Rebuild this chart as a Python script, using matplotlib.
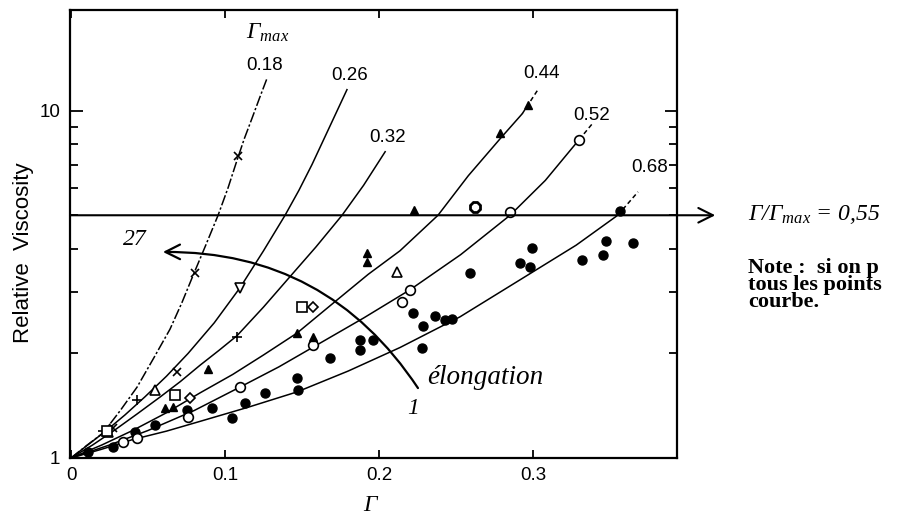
import matplotlib
matplotlib.use("Agg")
import matplotlib.pyplot as plt
from matplotlib.ticker import FixedLocator, NullFormatter, NullLocator

plt.rcParams["font.family"] = ["Liberation Sans", "DejaVu Sans"]
plt.rcParams["mathtext.fontset"] = "custom"
plt.rcParams["mathtext.rm"] = "Liberation Serif:italic"
plt.rcParams["mathtext.it"] = "Liberation Serif:italic"

# fitted curves, one per Gamma_max
c018_g = [0, 0.01, 0.0208, 0.032, 0.0429, 0.054, 0.0643, 0.072, 0.0792, 0.0875,
          0.0955, 0.102, 0.1078, 0.1125, 0.1175, 0.1225, 0.1273]
c018_v = [1, 1.085, 1.18, 1.37, 1.60, 1.95, 2.35, 2.8, 3.35, 4.1,
          5.0, 6.0, 7.2, 8.3, 9.5, 10.9, 12.4]
c026_g = [0, 0.012, 0.023, 0.035, 0.048, 0.062, 0.076, 0.093, 0.1097, 0.125,
          0.139, 0.148, 0.1565, 0.168, 0.1792]
c026_v = [1, 1.1, 1.2, 1.33, 1.5, 1.72, 2.0, 2.45, 3.09, 3.95,
          5.0, 5.9, 7.0, 9.0, 11.5]
c032_g = [0, 0.014, 0.028, 0.043, 0.058, 0.071, 0.0838, 0.096, 0.1078, 0.125,
          0.142, 0.159, 0.176, 0.19, 0.204]
c032_v = [1, 1.09, 1.2, 1.34, 1.5, 1.66, 1.85, 2.04, 2.25, 2.72,
          3.32, 4.05, 5.0, 6.1, 7.62]
c044_g = [0, 0.02, 0.04, 0.062, 0.0838, 0.105, 0.125, 0.1468, 0.1727, 0.193,
          0.2136, 0.2383, 0.258, 0.2786, 0.293]
c044_v = [1, 1.09, 1.2, 1.35, 1.54, 1.74, 1.98, 2.29, 2.85, 3.38,
          3.95, 5.0, 6.5, 8.3, 9.8]
c044_tail_g = [0.293, 0.3032]
c044_tail_v = [9.8, 11.5]
c052_g = [0, 0.025, 0.05, 0.08, 0.1097, 0.135, 0.16, 0.19, 0.2201, 0.253,
          0.2851, 0.308, 0.3299]
c052_v = [1, 1.09, 1.2, 1.37, 1.6, 1.83, 2.12, 2.53, 3.05, 3.85,
          5.0, 6.3, 8.25]
c052_tail_g = [0.3299, 0.339]
c052_tail_v = [8.25, 9.23]
c068_g = [0, 0.02, 0.04, 0.062, 0.0838, 0.115, 0.1468, 0.18, 0.2136, 0.2526,
          0.2983, 0.328, 0.355]
c068_v = [1, 1.06, 1.13, 1.195, 1.275, 1.4, 1.55, 1.78, 2.08, 2.55,
          3.4, 4.1, 5.0]
c068_tail_g = [0.355, 0.3682]
c068_tail_v = [5.0, 5.84]
curve_labels = ["0.18", "0.26", "0.32", "0.44", "0.52", "0.68"]

# measured points
fcirc_g = [0.011, 0.0273, 0.0416, 0.0545, 0.0753, 0.0916, 0.1045, 0.113, 0.126,
           0.1468, 0.1474, 0.168, 0.1877, 0.196, 0.1877, 0.222, 0.2286, 0.228,
           0.2364, 0.2429, 0.2474, 0.259, 0.2916, 0.298, 0.2994, 0.3318, 0.3455,
           0.3474, 0.365, 0.3565]
fcirc_v = [1.04, 1.076, 1.188, 1.245, 1.375, 1.39, 1.30, 1.44, 1.54,
           1.70, 1.57, 1.94, 2.19, 2.19, 2.05, 2.62, 2.40, 2.07,
           2.57, 2.50, 2.52, 3.41, 3.65, 3.55, 4.03, 3.72, 3.85,
           4.22, 4.16, 5.15]
ocirc_g = [0.0338, 0.0429, 0.076, 0.1097, 0.1571, 0.2149, 0.2201, 0.2851, 0.3299]
ocirc_v = [1.11, 1.14, 1.31, 1.60, 2.12, 2.82, 3.05, 5.12, 8.25]
ftri_g = [0.061, 0.0662, 0.089, 0.1468, 0.1571, 0.1922, 0.1922, 0.2227, 0.2786, 0.2968]
ftri_v = [1.39, 1.40, 1.81, 2.29, 2.23, 3.90, 3.67, 5.18, 8.64, 10.4]
otri_g = [0.024, 0.0545, 0.2117]
otri_v = [1.19, 1.57, 3.44]
dtri_g = [0.1097]
dtri_v = [3.09]
cross_g = [0.0273, 0.0688, 0.0805, 0.1084]
cross_v = [1.22, 1.77, 3.41, 7.42]
plus_g = [0.0208, 0.0429, 0.1078]
plus_v = [1.20, 1.47, 2.23]
square_g = [0.0234, 0.0675, 0.15]
square_v = [1.20, 1.52, 2.72]
diam_g = [0.0773, 0.1571]
diam_v = [1.49, 2.72]
octo_g = [0.2623]
octo_v = [5.29]

W, H = 898, 517


def fxy(px, py):
    """pixel position (from top-left) -> figure fraction"""
    return px / W, 1 - py / H


fig = plt.figure(figsize=(W / 100, H / 100), dpi=100)
ax = fig.add_axes([70 / W, (H - 458) / H, 607 / W, 448 / H])
ax.set_yscale("log")
ax.set_xlim(-0.00065, 0.3935)
ax.set_ylim(1, 19.5)

k = "black"
ax.plot(c018_g, c018_v, color=k, lw=1.1, dashes=(7, 1.5, 1.5, 1.5))
ax.plot(c026_g, c026_v, color=k, lw=1.1)
ax.plot(c032_g, c032_v, color=k, lw=1.1)
ax.plot(c044_g, c044_v, color=k, lw=1.1)
ax.plot(c044_tail_g, c044_tail_v, color=k, lw=1.1, dashes=(3, 2))
ax.plot(c052_g, c052_v, color=k, lw=1.1)
ax.plot(c052_tail_g, c052_tail_v, color=k, lw=1.1, dashes=(3, 2))
ax.plot(c068_g, c068_v, color=k, lw=1.1)
ax.plot(c068_tail_g, c068_tail_v, color=k, lw=1.1, dashes=(3, 2))

ax.plot(fcirc_g, fcirc_v, "o", color=k, ms=6.5, ls="none")
ax.plot(ocirc_g, ocirc_v, "o", mfc="white", mec=k, mew=1.2, ms=7, ls="none")
ax.plot(ftri_g, ftri_v, "^", color=k, ms=6, ls="none")
ax.plot(otri_g, otri_v, "^", mfc="white", mec=k, mew=1.2, ms=6.5, ls="none")
ax.plot(dtri_g, dtri_v, "v", mfc="white", mec=k, mew=1.2, ms=6.5, ls="none")
ax.plot(cross_g, cross_v, "x", color=k, mew=1.2, ms=6, ls="none")
ax.plot(plus_g, plus_v, "+", color=k, mew=1.2, ms=7, ls="none")
ax.plot(square_g, square_v, "s", mfc="white", mec=k, mew=1.2, ms=6.5, ls="none")
ax.plot(diam_g, diam_v, "D", mfc="white", mec=k, mew=1.2, ms=5.5, ls="none")
ax.plot(octo_g, octo_v, "8", mfc="white", mec=k, mew=2, ms=7.5, ls="none")

# Gamma/Gamma_max = 0.55 line with arrow past the frame
ax.annotate("", xy=(1.063, 5.0), xycoords=("axes fraction", "data"),
            xytext=(0.0, 5.0), textcoords=("axes fraction", "data"),
            arrowprops=dict(arrowstyle="->,head_length=0.7,head_width=0.35",
                            lw=1.5, color=k, shrinkA=0, shrinkB=0,
                            mutation_scale=15),
            annotation_clip=False)

# elongation arrow
ax.annotate("", xy=(0.0597, 3.92), xytext=(0.2253, 1.59),
            arrowprops=dict(arrowstyle="->,head_length=0.7,head_width=0.35",
                            connectionstyle="arc3,rad=0.27", lw=1.6, color=k,
                            shrinkA=0, shrinkB=0, mutation_scale=15))

ax.set_xticks([0, 0.1, 0.2, 0.3])
ax.set_xticklabels(["0", "0.1", "0.2", "0.3"])
ax.xaxis.set_minor_locator(NullLocator())
ax.yaxis.set_major_locator(FixedLocator([1, 10]))
ax.set_yticklabels(["1", "10"])
ax.yaxis.set_minor_locator(FixedLocator([2, 3, 4, 5, 6, 7, 8, 9]))
ax.yaxis.set_minor_formatter(NullFormatter())
ax.tick_params(which="both", direction="in", top=True, right=True, width=1.3,
               labelsize=13.5)
ax.tick_params(axis="x", which="major", length=6, pad=6.5)
ax.tick_params(axis="y", which="major", length=9, pad=7)
ax.tick_params(axis="y", which="minor", length=5.5)
for s in ax.spines.values():
    s.set_linewidth(1.6)

serif = ["Liberation Serif", "DejaVu Serif"]

fig.text(*fxy(24, 253), "Relative  Viscosity", rotation=90, fontsize=16,
         ha="center", va="center")
fig.text(*fxy(371, 505), r"$\Gamma$", fontsize=17, ha="center", va="center")
fig.text(*fxy(268, 33), r"$\Gamma_{max}$", fontsize=17, ha="center", va="center")

label_pos = [(265, 65), (350, 76), (388, 137), (541, 74), (592, 115), (650, 167)]
for lab, (px, py) in zip(curve_labels, label_pos):
    fig.text(*fxy(px, py), lab, fontsize=13.5, ha="center", va="center")

fig.text(*fxy(135, 240), "27", family=serif, style="italic", fontsize=17,
         ha="center", va="center")
fig.text(*fxy(413, 408), "1", family=serif, style="italic", fontsize=17,
         ha="center", va="center")
fig.text(*fxy(427, 377), "élongation", family=serif, style="italic",
         fontsize=19.5, ha="left", va="center")

fig.text(*fxy(748, 214), r"$\Gamma/\Gamma_{max}$ = 0,55", family=serif,
         style="italic", fontsize=17, ha="left", va="center")
note_text = "Note :  si on p\ntous les points\ncourbe."
fig.text(*fxy(748, 258), note_text, family=serif, weight="bold", fontsize=16,
         ha="left", va="top", linespacing=0.8)

fig.savefig("out.png", dpi=100)
